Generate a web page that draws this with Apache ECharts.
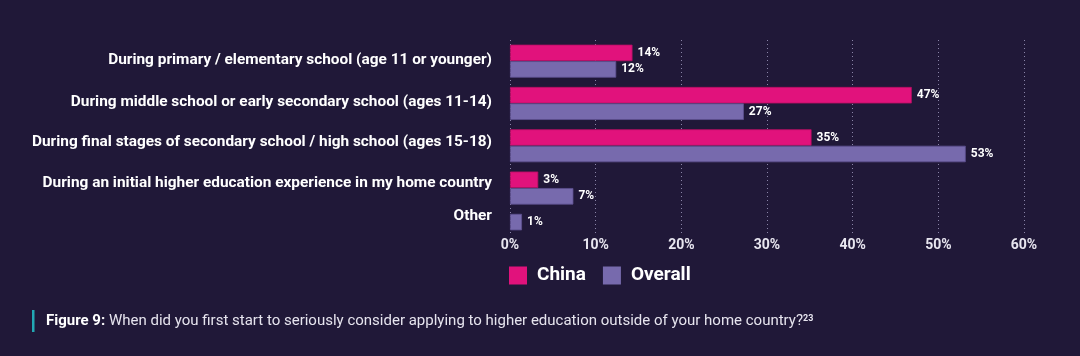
<!DOCTYPE html>
<html>
<head>
<meta charset="utf-8">
<script src="https://cdn.jsdelivr.net/npm/echarts@6/dist/echarts.min.js"></script>
<style>
html,body{margin:0;padding:0;background:#201838;}
#c{width:1080px;height:356px;}
</style>
</head>
<body>
<div id="c"></div>
<script>
const categories = [
  'During primary / elementary school (age 11 or younger)',
  'During middle school or early secondary school (ages 11-14)',
  'During final stages of secondary school / high school (ages 15-18)',
  'During an initial higher education experience in my home country',
  'Other'
];
const chinaValues = [14.3, 46.9, 35.2, 3.3, null];
const overallValues = [12.4, 27.3, 53.2, 7.4, 1.4];
const xTicks = [0, 10, 20, 30, 40, 50, 60];
const seriesNames = ['China', 'Overall'];
const captionBold = 'Figure 9:';
const captionText = ' When did you first start to seriously consider applying to higher education outside of your home country?';
const captionNote = '23';

const PINK = '#e1127c';
const PURPLE = '#776aad';
const BG = '#201838';

// When a category has no China value, its single Overall bar takes the first slot.
const chinaData = chinaValues.map((v, i) => v != null ? v : {value: overallValues[i], itemStyle: {color: PURPLE, borderColor: '#5e5190'}});
const overallData = overallValues.map((v, i) => chinaValues[i] != null ? v : null);

const labelShift = [1, 1, 4, 5, 14];
const rich = {};
labelShift.forEach((s, i) => {
  rich['l' + i] = {fontFamily: 'Roboto', fontWeight: 'bold', fontSize: 15.4, color: '#ffffff', padding: [0, 0, 2 * s, 0]};
});

const barLabel = {
  show: true, position: 'right', distance: 5,
  fontFamily: 'Roboto', fontWeight: 'bold', fontSize: 12, color: '#ffffff',
  formatter: p => Math.round(p.value) + '%'
};

const chart = echarts.init(document.getElementById('c'), null, {renderer: 'canvas'});
chart.setOption({
  backgroundColor: BG,
  animation: false,
  grid: [
    {left: 510, right: 56, top: 40, height: 211.5, containLabel: false},
    {left: 510, right: 56, top: 40, bottom: 123, containLabel: false}
  ],
  legend: {
    left: 509, top: 266, padding: 0,
    itemWidth: 18, itemHeight: 18, itemGap: 17,
    icon: 'rect',
    data: seriesNames,
    itemStyle: {borderWidth: 0},
    textStyle: {fontFamily: 'Roboto', fontWeight: 'bold', fontSize: 19, color: '#ffffff', padding: [0, 0, 0, 5]}
  },
  xAxis: [
    {gridIndex: 0, type: 'value', min: xTicks[0], max: xTicks[xTicks.length - 1], interval: 10, show: false},
    {
      gridIndex: 1, type: 'value', min: xTicks[0], max: xTicks[xTicks.length - 1], interval: 10,
      axisLine: {show: false}, axisTick: {show: false},
      axisLabel: {margin: 5, fontFamily: 'Roboto', fontWeight: 'bold', fontSize: 14, color: '#e8e6f0', formatter: '{value}%'},
      splitLine: {show: true, lineStyle: {color: '#8a84a8', width: 1, type: [1, 3]}}
    }
  ],
  yAxis: [
    {
      gridIndex: 0, type: 'category', data: categories, inverse: true,
      axisLine: {show: false}, axisTick: {show: false}, splitLine: {show: false},
      axisLabel: {
        margin: 18,
        formatter: (v, i) => '{l' + i + '|' + v + '}',
        rich: rich
      }
    },
    {gridIndex: 1, type: 'value', show: false}
  ],
  series: [
    {
      name: seriesNames[0], type: 'bar', xAxisIndex: 0, yAxisIndex: 0,
      data: chinaData, barWidth: 16.5, barGap: '0%',
      itemStyle: {color: PINK, borderColor: '#b50f63', borderWidth: 0.8},
      label: barLabel
    },
    {
      name: seriesNames[1], type: 'bar', xAxisIndex: 0, yAxisIndex: 0,
      data: overallData, barWidth: 16.5, barGap: '0%',
      itemStyle: {color: PURPLE, borderColor: '#5e5190', borderWidth: 0.8},
      label: barLabel
    }
  ],
  graphic: [
    {type: 'rect', left: 32, top: 310, shape: {width: 2.5, height: 22}, style: {fill: '#22a8b4'}},
    {
      type: 'text', left: 46, top: 314,
      style: {
        text: '{b|' + captionBold + '}{r|' + captionText + '}{s|' + captionNote + '}',
        rich: {
          b: {fontFamily: 'Roboto', fontWeight: 'bold', fontSize: 15, fill: '#ffffff', verticalAlign: 'bottom'},
          r: {fontFamily: 'Roboto', fontSize: 15, fill: '#e6e4ee', verticalAlign: 'bottom'},
          s: {fontFamily: 'Roboto', fontWeight: 'bold', fontSize: 9, fill: '#e6e4ee', verticalAlign: 'top', padding: [0, 0, 6, 0]}
        }
      }
    }
  ]
});
</script>
</body>
</html>
